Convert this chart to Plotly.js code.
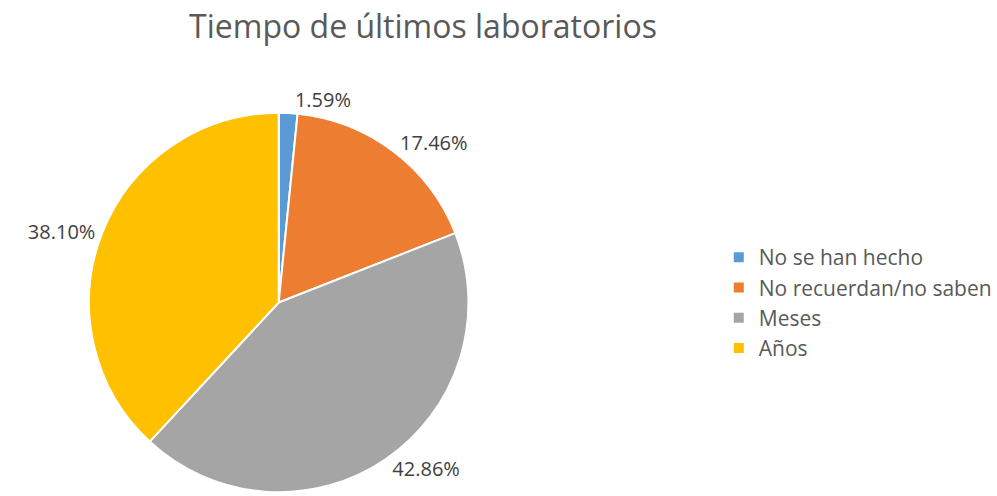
<!DOCTYPE html>
<html>
<head>
<meta charset="utf-8">
<script src="https://cdn.plot.ly/plotly-3.0.1.min.js"></script>
<style>html,body{margin:0;padding:0;background:#fff;}#chart{width:997px;height:496px;}</style>
</head>
<body>
<div id="chart"></div>
<script>
const categories = ["No se han hecho", "No recuerdan/no saben", "Meses", "Años"];
const counts = [1, 11, 27, 24];
const colors = ["#5B9BD5", "#ED7D31", "#A5A5A5", "#FFC000"];
const chartTitle = "Tiempo de últimos laboratorios";

const W = 997, H = 496;
const cx = 285, cy = 303, r = 194;

const trace = {
  type: "pie",
  labels: categories,
  values: counts,
  sort: false,
  direction: "clockwise",
  rotation: 0,
  marker: {colors: colors, line: {color: "#ffffff", width: 2}},
  texttemplate: "%{percent:.2%}",
  textposition: "outside",
  textfont: {family: "Open Sans, sans-serif", size: 20, color: "#404040"},
  hoverinfo: "label+percent",
  domain: {x: [(cx - r) / W, (cx + r) / W], y: [(H - cy - r) / H, (H - cy + r) / H]},
  automargin: false
};

const layout = {
  width: W, height: H,
  margin: {l: 0, r: 0, t: 0, b: 0},
  paper_bgcolor: "#ffffff",
  font: {family: "Open Sans, sans-serif", color: "#595959"},
  title: {text: chartTitle, x: 423 / W, xanchor: "center", y: 1 - 27 / H, yanchor: "middle",
          font: {family: "Open Sans, sans-serif", size: 32, color: "#595959"}},
  showlegend: true,
  legend: {x: 735 / W, xanchor: "left", y: 1 - 303 / H, yanchor: "middle",
           font: {family: "Open Sans, sans-serif", size: 21, color: "#595959"},
           bgcolor: "rgba(0,0,0,0)"}
};

Plotly.newPlot("chart", [trace], layout, {displayModeBar: false, staticPlot: true});
</script>
</body>
</html>
